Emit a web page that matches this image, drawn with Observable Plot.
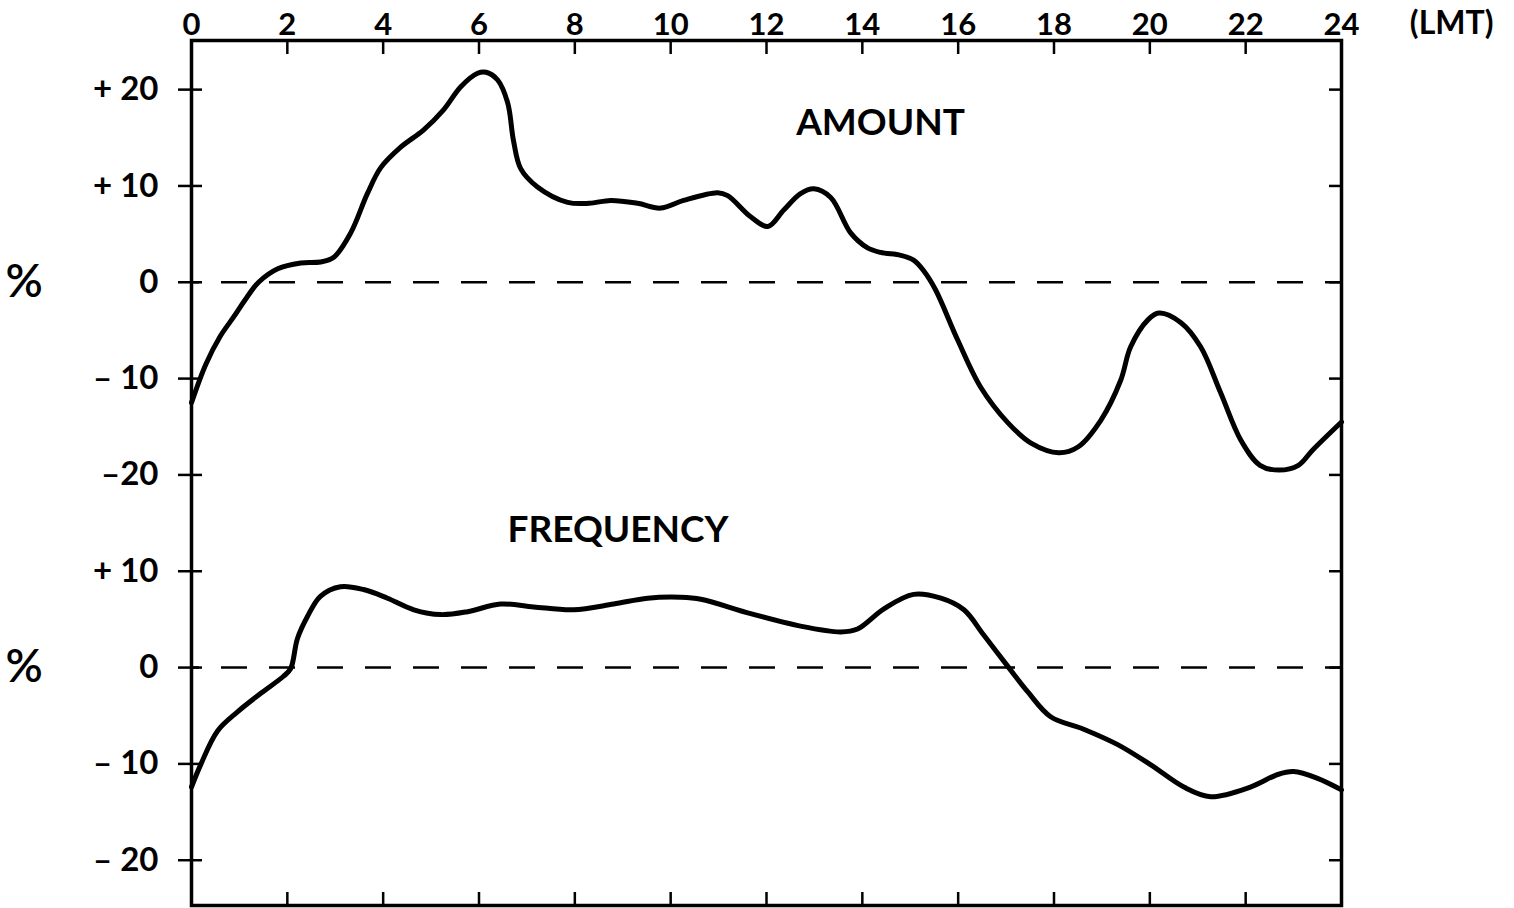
<!DOCTYPE html>
<html><head><meta charset="utf-8">
<script src="https://cdn.jsdelivr.net/npm/d3@7"></script>
<script src="https://cdn.jsdelivr.net/npm/@observablehq/plot@0.6"></script>
<style>html,body{margin:0;padding:0;background:#fff;overflow:hidden}</style>
</head><body><div id="chart"></div>
<script>
// Amount deviation (%) by local mean time (hours)
const amountHours = [0,0.3,0.6,0.88,1.15,1.4,1.8,2.28,2.69,2.97,3.32,3.67,3.95,4.36,4.84,5.26,5.62,5.97,6.15,6.39,6.6,6.72,6.87,7.22,7.85,8.3,8.75,9.31,9.79,10.27,10.98,11.19,11.67,12.03,12.36,12.71,12.99,13.34,13.76,14.1,14.38,14.8,15.07,15.28,15.53,15.99,16.47,17.04,17.52,18.1,18.5,18.98,19.39,19.6,19.96,20.19,20.65,21.06,21.48,21.9,22.3,22.7,23.1,23.4,24];
const amountValues = [-12.5,-8.5,-5.6,-3.6,-1.6,0,1.4,2.0,2.1,2.6,5.1,9.2,11.9,14.0,15.8,17.9,20.3,21.7,21.8,21.0,18.6,14.7,11.8,9.9,8.3,8.2,8.5,8.2,7.7,8.5,9.3,9.0,6.8,5.8,7.5,9.2,9.7,8.8,5.1,3.6,3.1,2.8,2.3,1.2,-0.8,-6.0,-10.9,-14.6,-16.7,-17.7,-17.1,-14.3,-10.2,-6.7,-3.9,-3.2,-4.2,-6.7,-11.5,-16.4,-19.0,-19.5,-19.0,-17.4,-14.5];

// Frequency deviation (%) by local mean time (hours)
const freqHours = [0,0.19,0.54,0.96,1.44,1.92,2.07,2.21,2.42,2.69,3.11,3.59,4.09,4.64,5.2,5.76,6.45,7.14,7.97,8.81,9.52,10.2,10.63,11.67,12.71,13.55,13.9,14.45,15.07,15.64,16.12,16.53,17.04,17.45,17.93,18.62,19.33,20.02,20.71,21.27,22.1,22.67,23.0,23.5,24];
const freqValues = [-12.4,-10.1,-6.6,-4.6,-2.7,-0.9,-0.1,3.0,5.3,7.4,8.4,8.1,7.2,6.0,5.5,5.8,6.6,6.3,6.0,6.6,7.2,7.3,7.1,5.6,4.3,3.7,4.0,6.1,7.6,7.2,6.0,3.4,0.1,-2.5,-5.1,-6.4,-8.0,-10.1,-12.4,-13.4,-12.4,-11.1,-10.8,-11.5,-12.7];

const xTicks = [0,2,4,6,8,10,12,14,16,18,20,22,24];
const amountTicks = [20,10,0,-10,-20];
const amountTickLabels = ["+ 20","+ 10","0","– 10","–20"];
const freqTicks = [10,0,-10,-20];
const freqTickLabels = ["+ 10","0","– 10","– 20"];
const freqOffset = -40; // frequency panel drawn below the amount panel on a shared scale

const panelZeros = [0, freqOffset];
const labels = [
  {text: "AMOUNT", hour: 14.38, value: 16.5},
  {text: "FREQUENCY", hour: 8.9, value: 14.3 + freqOffset}
];

const amountData = amountHours.map((h, i) => ({hour: h, value: amountValues[i]}));
const freqData = freqHours.map((h, i) => ({hour: h, value: freqValues[i] + freqOffset}));

const yTickVals = [...amountTicks, ...freqTicks.map(v => v + freqOffset)];
const yTickText = new Map(yTickVals.map((v, i) => [v, [...amountTickLabels, ...freqTickLabels][i]]));

const font = "Lato, 'Open Sans', sans-serif";

const plot = Plot.plot({
  width: 1514,
  height: 908,
  marginLeft: 191,
  marginRight: 173,
  marginTop: 40,
  marginBottom: 3,
  style: {fontFamily: font, fontWeight: "bold", background: "#fff", color: "#000"},
  x: {domain: [0, 24]},
  y: {domain: [-64.7, 25.1]},
  marks: [
    Plot.ruleY(panelZeros, {stroke: "#000", strokeWidth: 2.5, strokeDasharray: "26,22", strokeDashoffset: -30}),
    Plot.line(amountData, {x: "hour", y: "value", stroke: "#000", strokeWidth: 5, curve: "catmull-rom"}),
    Plot.line(freqData, {x: "hour", y: "value", stroke: "#000", strokeWidth: 5, curve: "catmull-rom"}),
    Plot.frame({stroke: "#000", strokeWidth: 3.5}),
    Plot.axisX(xTicks, {anchor: "top", tickSize: 0, tickPadding: 6, fontSize: 31, fontWeight: "bold", label: null, tickFormat: d => String(d)}),
    Plot.axisX(xTicks, {anchor: "top", tickSize: -13, strokeWidth: 2.5, tickFormat: () => "", label: null}),
    Plot.axisX(xTicks, {anchor: "bottom", tickSize: -13, strokeWidth: 2.5, tickFormat: () => "", label: null}),
    Plot.axisY(yTickVals, {anchor: "left", tickSize: 13, strokeWidth: 2.5, tickPadding: 20, fontSize: 33, fontWeight: "bold", label: null, tickFormat: d => yTickText.get(d)}),
    Plot.axisY(yTickVals, {anchor: "left", tickSize: -11, strokeWidth: 2.5, tickFormat: () => "", label: null}),
    Plot.axisY(yTickVals, {anchor: "right", tickSize: -13, strokeWidth: 2.5, tickFormat: () => "", label: null}),
    Plot.text(labels, {x: "hour", y: "value", text: "text", fontSize: 37, fontWeight: "bold", fill: "#000", letterSpacing: "4px"}),
    Plot.text(panelZeros, {y: d => d, text: () => "%", frameAnchor: "left", dx: -186, fontSize: 46, fontWeight: "600", fill: "#000"}),
    Plot.text(["(LMT)"], {text: d => d, frameAnchor: "top-right", lineAnchor: "middle", textAnchor: "end", dx: 152, dy: -17, fontSize: 32, fontWeight: "bold", fill: "#000", letterSpacing: "4px"})
  ]
});
document.getElementById("chart").appendChild(plot);
</script>
</body></html>
